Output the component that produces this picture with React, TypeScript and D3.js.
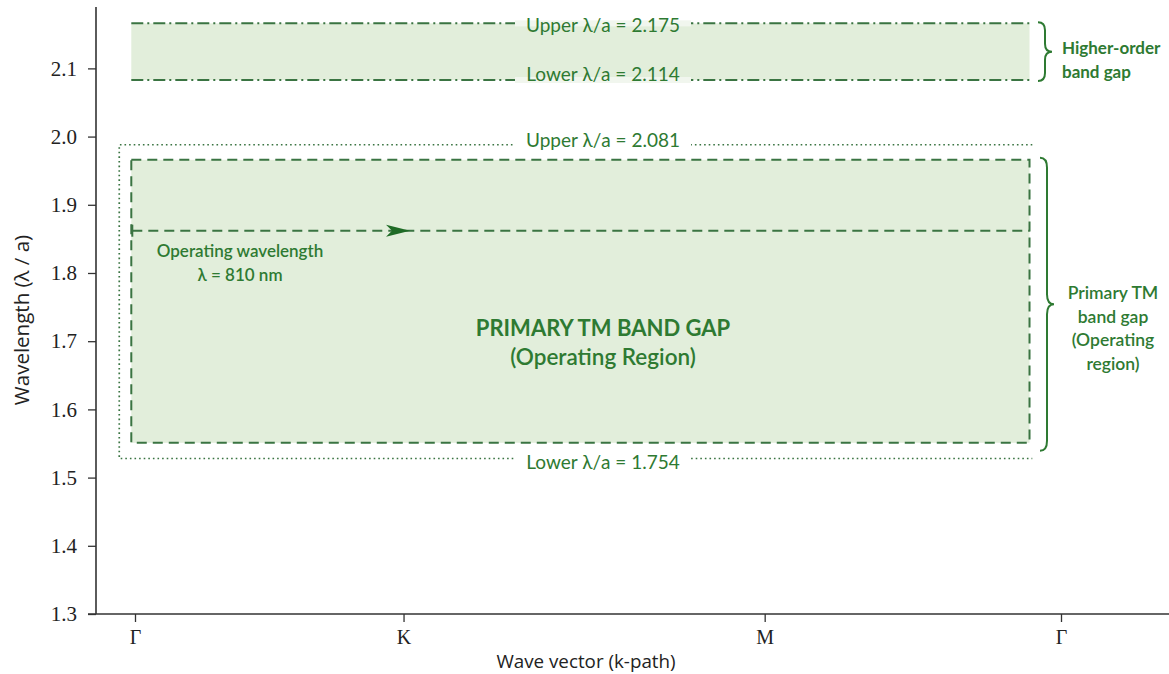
import React, { useEffect, useRef } from "react";
import * as d3 from "d3";

// ---- data ----
const kLabels = ["Γ", "K", "M", "Γ"];
const kPositions = [0, 0.29, 0.68, 1.0];
const yTicks = [1.3, 1.4, 1.5, 1.6, 1.7, 1.8, 1.9, 2.0, 2.1];
const yDomain = [1.3, 2.19];

// drawn extents of the gaps
const higherGap = [2.083, 2.166];
const higherGapLabels = ["Lower λ/a = 2.114", "Upper λ/a = 2.175"];
const primaryGap = [1.551, 1.966];
const outerBounds = [1.528, 1.988];
const outerLabels = ["Lower λ/a = 1.754", "Upper λ/a = 2.081"];
const operatingLambda = 1.862;
const gapK = [-0.004, 0.966];
const outerK = [-0.017, 0.969];
const operatingArrowK = 0.297;

const GREEN = "#2e7a32";
const LINE = "#3a7442";
const FILL = "#e2eedb";

const W = 1169;
const H = 674;

function brace(x0: number, y1: number, y2: number, w: number, r: number) {
  const ym = (y1 + y2) / 2;
  const xm = x0 + w / 2;
  return `M${x0},${y1} Q${xm},${y1} ${xm},${y1 + r} L${xm},${ym - r} Q${xm},${ym} ${x0 + w},${ym} Q${xm},${ym} ${xm},${ym + r} L${xm},${y2 - r} Q${xm},${y2} ${x0},${y2}`;
}

export default function App() {
  const xAxisRef = useRef<SVGGElement>(null);
  const yAxisRef = useRef<SVGGElement>(null);

  const x = d3.scaleLinear().domain([0, 1]).range([135, 1061]);
  const y = d3.scaleLinear().domain(yDomain).range([614, 7]);

  useEffect(() => {
    const ya = d3
      .axisLeft(y)
      .tickValues(yTicks)
      .tickFormat(d3.format(".1f"))
      .tickSize(8)
      .tickPadding(11);
    const yg = d3.select(yAxisRef.current!);
    yg.call(ya as any);
    yg.select(".domain").remove();
    yg.selectAll("line").attr("stroke", "#333").attr("stroke-width", 1.3);
    yg.selectAll("text")
      .attr("font-family", "'Liberation Serif', serif")
      .attr("font-size", 21)
      .attr("fill", "#222");

    const xa = d3
      .axisBottom(x)
      .tickValues(kPositions)
      .tickFormat((_d, i) => kLabels[i])
      .tickSize(8)
      .tickPadding(8);
    const xg = d3.select(xAxisRef.current!);
    xg.call(xa as any);
    xg.select(".domain").remove();
    xg.selectAll("line").attr("stroke", "#333").attr("stroke-width", 1.3);
    xg.selectAll("text")
      .attr("font-family", "'Liberation Serif', serif")
      .attr("font-size", 20)
      .attr("fill", "#222");
  }, []);

  const gx0 = x(gapK[0]);
  const gx1 = x(gapK[1]);
  const ox0 = x(outerK[0]);
  const ox1 = x(outerK[1]);
  const midX = 603;

  const lineLabel = (txt: string, lineY: number, textY: number, bg: string, key: string) => (
    <g key={key}>
      <rect x={midX - 88} y={lineY - 3} width={176} height={6} fill={bg} />
      <text
        x={midX}
        y={textY}
        dy="0.35em"
        textAnchor="middle"
        fontFamily="Lato, sans-serif"
        fontSize={19}
        fill={GREEN}
      >
        {txt}
      </text>
    </g>
  );

  const hyTop = y(higherGap[1]);
  const hyBot = y(higherGap[0]);
  const pyTop = y(primaryGap[1]);
  const pyBot = y(primaryGap[0]);
  const oyTop = y(outerBounds[1]);
  const oyBot = y(outerBounds[0]);
  const opY = y(operatingLambda);
  const arrowTip = x(operatingArrowK);

  return (
    <svg
      width={W}
      height={H}
      style={{ position: "absolute", left: 0, top: 0, background: "#fff" }}
    >
      {/* higher-order gap */}
      <rect x={gx0} y={hyTop} width={gx1 - gx0} height={hyBot - hyTop} fill={FILL} />
      <line x1={gx0} x2={gx1} y1={hyTop} y2={hyTop} stroke={LINE} strokeWidth={2} strokeDasharray="12,4,2,4" />
      <line x1={gx0} x2={gx1} y1={hyBot} y2={hyBot} stroke={LINE} strokeWidth={2} strokeDasharray="12,4,2,4" />
      {lineLabel(higherGapLabels[1], hyTop, hyTop + 2, "#f1f6ee", "hu")}
      {lineLabel(higherGapLabels[0], hyBot, hyBot - 6, "#f1f6ee", "hl")}

      {/* primary gap */}
      <rect x={gx0} y={pyTop} width={gx1 - gx0} height={pyBot - pyTop} fill={FILL} />
      <rect
        x={gx0}
        y={pyTop}
        width={gx1 - gx0}
        height={pyBot - pyTop}
        fill="none"
        stroke={LINE}
        strokeWidth={2}
        strokeDasharray="10,6"
      />
      {/* outer dotted bounds */}
      <path
        d={`M${ox1},${oyTop} L${ox0},${oyTop} L${ox0},${oyBot} L${ox1},${oyBot}`}
        fill="none"
        stroke={LINE}
        strokeWidth={1.7}
        strokeDasharray="1.6,3"
      />
      {lineLabel(outerLabels[1], oyTop, oyTop - 4, "#ffffff", "ou")}
      {lineLabel(outerLabels[0], oyBot, oyBot + 4, "#ffffff", "ol")}

      {/* operating wavelength */}
      <line x1={gx0 + 1} x2={gx1} y1={opY} y2={opY} stroke={LINE} strokeWidth={2} strokeDasharray="10,6" />
      <line x1={gx0 + 1} x2={gx0 + 1} y1={opY - 6} y2={opY + 6} stroke={LINE} strokeWidth={2} />
      <path
        d={`M${arrowTip},${opY} L${arrowTip - 24},${opY - 6} L${arrowTip - 18},${opY} L${arrowTip - 24},${opY + 6} Z`}
        fill="#1f6b26"
      />
      <text x={240} y={251} dy="0.35em" textAnchor="middle" fontFamily="Lato, sans-serif" fontSize={17} fontWeight={600} fill={GREEN}>
        Operating wavelength
      </text>
      <text x={240} y={275} dy="0.35em" textAnchor="middle" fontFamily="Lato, sans-serif" fontSize={17} fontWeight={600} fill={GREEN}>
        λ = 810 nm
      </text>

      <text x={midX} y={328} dy="0.35em" textAnchor="middle" fontFamily="Lato, sans-serif" fontSize={22} fontWeight={700} fill={GREEN}>
        PRIMARY TM BAND GAP
      </text>
      <text x={midX} y={357} dy="0.35em" textAnchor="middle" fontFamily="Lato, sans-serif" fontSize={22.5} fontWeight={600} fill={GREEN}>
        (Operating Region)
      </text>

      {/* braces */}
      <path d={brace(1038, hyTop - 1, hyBot + 1, 14, 8)} fill="none" stroke={GREEN} strokeWidth={2} />
      <text x={1062} y={48} dy="0.35em" fontFamily="Lato, sans-serif" fontSize={17} fontWeight={700} fill={GREEN}>
        Higher-order
      </text>
      <text x={1062} y={72} dy="0.35em" fontFamily="Lato, sans-serif" fontSize={17} fontWeight={700} fill={GREEN}>
        band gap
      </text>

      <path d={brace(1040, pyTop - 2, pyBot + 8, 14, 10)} fill="none" stroke={GREEN} strokeWidth={2} />
      {["Primary TM", "band gap", "(Operating", "region)"].map((t, i) => (
        <text
          key={i}
          x={1113}
          y={293 + i * 23.5}
          dy="0.35em"
          textAnchor="middle"
          fontFamily="Lato, sans-serif"
          fontSize={17.5}
          fontWeight={600}
          fill={GREEN}
        >
          {t}
        </text>
      ))}

      {/* axes */}
      <g ref={yAxisRef} transform="translate(96,0)" />
      <g ref={xAxisRef} transform="translate(0,614)" />
      <line x1={96} x2={96} y1={7} y2={614} stroke="#333" strokeWidth={1.6} />
      <line x1={88} x2={1169} y1={614} y2={614} stroke="#333" strokeWidth={1.6} />

      <text
        x={586}
        y={661}
        dy="0.35em"
        textAnchor="middle"
        fontFamily="'Open Sans', sans-serif"
        fontSize={18.8}
        fill="#222"
      >
        Wave vector (k-path)
      </text>
      <text
        transform="translate(22,320) rotate(-90)"
        dy="0.35em"
        textAnchor="middle"
        fontFamily="'Open Sans', sans-serif"
        fontSize={20.5}
        fill="#222"
      >
        Wavelength (λ / a)
      </text>
    </svg>
  );
}
